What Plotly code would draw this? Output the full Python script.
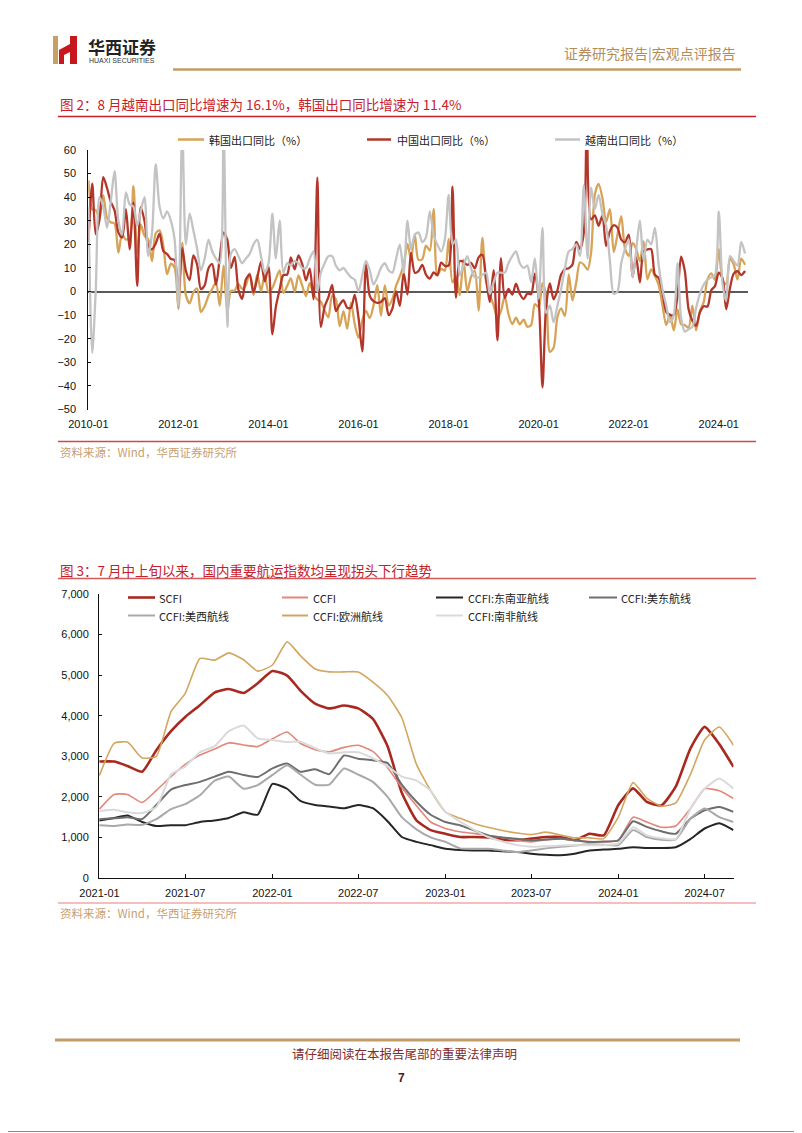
import plotly.graph_objects as go
import pandas as pd

# The page body adds an 8px margin around the plot div, so the figure is made
# 8px smaller on each axis and all page positions are shifted by that margin.
PAGE_W, PAGE_H, OFF = 802, 1133, 8
W, H = PAGE_W - OFF, PAGE_H - OFF
def px(x): return (x - OFF) / W
def py(y): return 1 - (y - OFF) / H

CJK = "Noto Sans CJK SC"
LAT = "Liberation Sans, Arial, sans-serif"

# ---------------- Chart 1 data (monthly, 2010-01 .. 2024-08) ----------------
months1 = pd.date_range("2010-01-01", periods=176, freq="MS").strftime("%Y-%m-%d").tolist()

korea = [
    47.1, 34.8, 34.5, 31.5, 40.9, 31.2, 29.4, 28.8, 16.5, 24.3, 22.0, 23.0,
    44.7, 16.3, 28.4, 23.7, 22.2, 12.9, 24.7, 25.9, 19.3, 7.4, 11.8, 10.2,
    -7.4, 20.6, -1.4, -5.0, -0.4, 1.3, -8.7, -6.2, -1.8, 1.1, 3.8, -6.0,
    11.0, -8.6, 0.2, 0.4, 3.2, 1.1, 2.6, 7.7, -1.5, 7.3, 0.2, 7.0,
    -0.2, 1.6, 5.2, 9.0, -0.6, 2.4, 5.6, -0.1, 6.8, 2.5, -1.9, 3.6,
    -0.9, -3.4, -4.3, -8.0, -10.9, -1.8, -3.3, -14.7, -8.3, -15.8, -4.7, -13.8,
    -19.6, -12.2, -8.2, -11.2, -6.0, 2.7, -10.2, 2.6, -5.9, -3.2, 2.5, 6.4,
    11.2, 20.2, 13.7, 24.2, 13.4, 13.7, 19.5, 17.4, 35.0, 6.9, 9.6, 8.9,
    22.3, 3.9, 6.1, -1.5, 13.5, -0.1, 6.2, 8.7, -8.1, 22.7, 4.1, -1.2,
    -5.9, -11.3, -8.3, -2.1, -9.5, -13.8, -11.1, -13.9, -11.9, -14.9, -14.2, -5.3,
    -6.6, 3.6, -1.4, -25.6, -23.8, -10.9, -7.1, -10.3, 7.3, -3.8, 3.9, 12.4,
    11.4, 9.3, 16.4, 41.1, 45.6, 39.7, 29.6, 34.9, 16.7, 24.0, 32.0, 18.3,
    15.1, 20.6, 18.2, 12.9, 21.3, 5.2, 9.4, 6.6, 2.7, -5.8, -14.2, -9.7,
    -16.4, -7.6, -13.8, -14.3, -15.3, -6.0, -16.4, -8.3, -4.4, 5.1, 7.7, 5.0,
    18.0, 4.8, 3.1, 13.8, 11.5, 5.1, 13.9, 11.4,
]

china = [
    21.0, 45.7, 24.3, 30.5, 48.5, 43.9, 38.1, 34.4, 25.1, 22.9, 34.9, 17.9,
    37.7, 2.4, 35.8, 29.9, 19.4, 17.9, 20.4, 24.5, 17.1, 15.9, 13.8, 13.4,
    -0.5, 18.4, 8.9, 4.9, 15.3, 11.3, 1.0, 2.7, 9.9, 11.6, 2.9, 14.1,
    25.0, 21.8, 10.0, 14.7, 1.0, -3.1, 5.1, 7.2, -0.3, 5.6, 12.7, 4.3,
    10.6, -18.1, -6.6, 0.9, 7.0, 7.2, 14.5, 9.4, 15.3, 11.6, 4.7, 9.7,
    -3.3, 48.3, -15.0, -6.4, -2.5, 2.8, -8.3, -5.5, -3.7, -6.9, -6.8, -1.4,
    -11.2, -25.4, 11.5, -1.8, -4.1, -4.8, -4.4, -2.8, -10.0, -7.3, 0.1, -6.1,
    7.9, -1.3, 16.4, 8.0, 8.7, 11.3, 7.2, 5.5, 8.1, 6.9, 12.3, 10.9,
    11.1, 44.5, -2.7, 12.9, 12.6, 11.3, 12.2, 9.8, 14.5, 15.6, 5.4, -4.4,
    9.1, -20.7, 14.2, -2.7, 1.1, -1.3, 3.3, -1.0, -3.2, -0.9, -1.1, 7.6,
    -3.0, -40.6, -6.6, 3.5, -3.3, 0.5, 7.2, 9.5, 9.9, 11.4, 21.1, 18.1,
    24.9, 154.9, 30.6, 32.3, 27.9, 32.2, 19.3, 25.6, 28.1, 27.1, 22.0, 20.9,
    24.1, 6.2, 14.7, 3.9, 16.9, 17.9, 18.0, 7.1, 5.7, -0.3, -8.7, -9.9,
    -10.0, -1.3, 14.8, 8.5, -7.5, -12.4, -14.5, -8.8, -6.2, -6.4, 0.5, 2.3,
    8.0, 5.6, -7.5, 1.5, 7.6, 8.6, 7.0, 8.7,
]

vietnam = [
    36, -26, 0, 40, 36, 27, 38, 51, 30, 24, 42, 37,
    36, 28, 34, 40, 15, 25, 54, 36, 31, 34, 30, 22,
    -6, 70, 20, 33, 26, 18, 9, 14, 22, 17, 14, 12,
    70, -15, 16, 18, 15, 12, 14, 16, 20, 22, 15, 8,
    12, 33, 14, 30, 8, 12, 11, 13, 12, 10, 10, 14,
    17, 0, 8, 12, 15, 15, 11, 9, 10, 8, 6, 5,
    0, 7, 13, 9, 3, 6, 10, 12, 9, 8, 14, 20,
    8, 30, 18, 24, 25, 21, 23, 34, 24, 20, 17, 22,
    41, 20, 22, 7, 11, 15, 10, 6, 6, 7, 8, -1,
    4, 8, 8, 8, 12, 15, 17, 12, 10, 11, 4, 14,
    -3, 27, -9, -6, -13, -6, 1, 10, 17, 18, 20, 15,
    45, 14, 44, 35, 41, 33, 28, 13, -1, 0, 12, 18,
    22, 6, 17, 30, 13, 22, 20, 27, 11, 1, -6, -13,
    -10, 12, -11, -17, -16, -15, -7, -1, 3, 5, 6, 7,
    34, 3, -4, 15, 13, 11, 21, 16.1,
]

legend1 = ["韩国出口同比（%）", "中国出口同比（%）", "越南出口同比（%）"]

# ---------------- Chart 2 data (2021-01 .. 2024-08) ----------------
dates2 = pd.date_range("2021-01-01", "2024-08-01", freq="MS").strftime("%Y-%m-%d").tolist() + ["2024-08-31"]

scfi = [2870, 2870, 2760, 2620, 3150, 3620, 3970, 4260, 4570, 4660, 4560, 4800,
        5100, 4990, 4620, 4300, 4180, 4250, 4180, 3920, 3250, 2100, 1420, 1180,
        1090, 1010, 1010, 1000, 950, 930, 970, 1010, 1010, 930, 1090, 1050,
        1800, 2210, 1875, 1790, 2250, 3190, 3725, 3300, 2738]
ccfi = [1700, 2060, 2060, 1860, 2160, 2500, 2800, 3030, 3180, 3330, 3280, 3240,
        3430, 3600, 3320, 3160, 3110, 3220, 3270, 3120, 2720, 2230, 1780, 1380,
        1220, 1140, 1100, 1050, 1000, 930, 890, 940, 970, 930, 900, 890,
        930, 1500, 1380, 1250, 1280, 1710, 2200, 2150, 1960]
ccfi_sea = [1420, 1480, 1540, 1380, 1280, 1300, 1300, 1380, 1420, 1480, 1620, 1560,
            2320, 2200, 1900, 1800, 1760, 1720, 1800, 1720, 1400, 1010, 890, 810,
            720, 690, 680, 680, 660, 640, 600, 570, 560, 600, 680, 700,
            720, 760, 740, 740, 760, 960, 1220, 1350, 1180]
ccfi_usec = [1450, 1470, 1500, 1450, 1800, 2180, 2290, 2370, 2500, 2620, 2540, 2490,
             2700, 2820, 2620, 2680, 2560, 3020, 2940, 2900, 2830, 2300, 1880, 1560,
             1380, 1300, 1180, 1050, 1000, 970, 930, 950, 970, 930, 890, 900,
             930, 1400, 1260, 1150, 1090, 1460, 1670, 1750, 1630]
ccfi_uswc = [1300, 1280, 1320, 1310, 1450, 1700, 1820, 2040, 2400, 2500, 2200, 2290,
             2540, 2780, 2550, 2300, 2300, 2700, 2550, 2370, 2000, 1500, 1200, 1000,
             890, 730, 720, 720, 680, 640, 680, 730, 770, 800, 830, 820,
             810, 1180, 1010, 940, 950, 1460, 1710, 1500, 1380]
ccfi_eu = [2530, 3320, 3350, 2960, 3000, 4100, 4550, 5410, 5370, 5550, 5380, 5100,
           5250, 5820, 5480, 5150, 5080, 5080, 5080, 4830, 4500, 3950, 2800, 2150,
           1630, 1470, 1350, 1250, 1170, 1110, 1070, 1130, 1060, 990, 990, 970,
           1500, 2350, 1970, 1770, 1850, 2550, 3400, 3720, 3273]
ccfi_saf = [1650, 1680, 1620, 1600, 1750, 2550, 2750, 3100, 3250, 3620, 3760, 3440,
            3400, 3350, 3360, 3200, 3070, 3100, 3100, 2950, 2750, 2500, 2400, 2150,
            1630, 1390, 1200, 1010, 900, 810, 770, 780, 800, 810, 810, 810,
            850, 1250, 1050, 980, 960, 1700, 2200, 2450, 2200]

legend2 = ["SCFI", "CCFI", "CCFI:东南亚航线", "CCFI:美东航线", "CCFI:美西航线", "CCFI:欧洲航线", "CCFI:南非航线"]

# ---------------- styles ----------------
c_korea, c_china, c_viet = "#D7A357", "#B3362B", "#C3C3C3"
s1 = [(korea, c_korea), (china, c_china), (vietnam, c_viet)]

s2 = [
    (scfi, "#A8291F", 2.6),
    (ccfi, "#E3877A", 1.6),
    (ccfi_sea, "#262626", 2.0),
    (ccfi_usec, "#6E6E6E", 2.0),
    (ccfi_uswc, "#A9A9A9", 2.0),
    (ccfi_eu, "#D3A55E", 1.6),
    (ccfi_saf, "#DADADA", 2.0),
]

fig = go.Figure()
for vals, col in s1:
    fig.add_trace(go.Scatter(x=months1, y=vals, mode="lines", xaxis="x", yaxis="y",
                             line=dict(color=col, width=2.3, shape="spline", smoothing=0.8),
                             showlegend=False, hoverinfo="skip"))
for vals, col, wd in s2:
    fig.add_trace(go.Scatter(x=dates2, y=vals, mode="lines", xaxis="x2", yaxis="y2",
                             line=dict(color=col, width=wd, shape="spline", smoothing=0.5),
                             showlegend=False, hoverinfo="skip"))

tickfont = dict(family=LAT, size=11, color="#111")

fig.update_layout(
    template="none",
    width=W, height=H, autosize=False,
    margin=dict(l=0, r=0, t=0, b=0, pad=0, autoexpand=False),
    showlegend=False,
    paper_bgcolor="white", plot_bgcolor="rgba(0,0,0,0)",
    xaxis=dict(domain=[px(88.3), px(748)], range=["2009-12-31", "2024-08-25"],
               type="date", tickformat="%Y-%m", dtick="M24", tick0="2010-01-01",
               showline=False, showgrid=False, zeroline=False, automargin=False,
               ticks="", ticklabelstandoff=6, tickfont=tickfont),
    yaxis=dict(domain=[py(409.5), py(150)], range=[-50, 60], dtick=10,
               showline=True, linecolor="#111", linewidth=1, showgrid=False,
               zeroline=True, zerolinecolor="#595959", zerolinewidth=1.6, automargin=False,
               ticks="inside", ticklen=3, tickcolor="#111", tickfont=tickfont,
               ticklabelstandoff=9),
    xaxis2=dict(domain=[px(99), px(733.5)], range=["2020-12-31", "2024-08-31"],
                type="date", tickformat="%Y-%m", dtick="M6", tick0="2021-01-01",
                showline=True, linecolor="#111", linewidth=1, showgrid=False, zeroline=False,
                automargin=False, ticklabelstandoff=5,
                ticks="inside", ticklen=4, tickcolor="#111", tickfont=tickfont, anchor="y2"),
    yaxis2=dict(domain=[py(878), py(594)], range=[0, 7000], dtick=1000, tickformat=",",
                showline=True, linecolor="#111", linewidth=1, showgrid=False, zeroline=False,
                automargin=False,
                ticks="inside", ticklen=3, tickcolor="#111", tickfont=tickfont,
                ticklabelstandoff=7, anchor="x2"),
)

shapes = []
annotations = []

def hline(x0, x1, y, color, width):
    shapes.append(dict(type="line", xref="paper", yref="paper",
                       x0=px(x0), x1=px(x1), y0=py(y), y1=py(y),
                       line=dict(color=color, width=width)))

def vline(x, y0, y1, color, width):
    shapes.append(dict(type="line", xref="paper", yref="paper",
                       x0=px(x), x1=px(x), y0=py(y0), y1=py(y1),
                       line=dict(color=color, width=width)))

def text(x, y, s, size, color, family=CJK, xanchor="left", bold=False):
    if bold:
        s = "<b>" + s + "</b>"
    annotations.append(dict(x=px(x), y=py(y), xref="paper", yref="paper", text=s,
                            showarrow=False, xanchor=xanchor, yanchor="middle",
                            font=dict(family=family, size=size, color=color)))

# page border (right and bottom edges fall inside the drawable area)
hline(8, 800.5, 1131.5, "#8a8a8a", 1)
vline(800.5, 8, 1131.5, "#8a8a8a", 1)

# logo
shapes.append(dict(type="rect", xref="paper", yref="paper", x0=px(53), x1=px(58),
                   y0=py(64), y1=py(36), fillcolor="#C9A063", line=dict(width=0)))
pts = [(59, 64), (59, 50), (70, 44), (70, 36), (77, 36), (77, 64), (70, 64), (70, 52), (64, 55), (64, 64)]
path = "M " + " L ".join(f"{px(a):.5f},{py(b):.5f}" for a, b in pts) + " Z"
shapes.append(dict(type="path", xref="paper", yref="paper", path=path,
                   fillcolor="#C8161D", line=dict(width=0)))
text(86, 47, "华西证券", 17, "#222", bold=True)
text(87, 61, "HUAXI SECURITIES", 7, "#333", family=LAT)
text(738, 53, "证券研究报告|宏观点评报告", 14, "#B48C5A", xanchor="right")
hline(173, 741, 69.5, "#C39B67", 2.5)

# chart 1 frame texts
red = "#C8202A"
text(58, 104, "图 2：8 月越南出口同比增速为 16.1%，韩国出口同比增速为 11.4%", 13.5, red)
hline(58, 756, 116.5, red, 1.5)
hline(58, 756, 441.5, "#D04848", 1.5)
text(58, 451.5, "资料来源：Wind，华西证券研究所", 11.5, "#C8A070")

# chart 1 legend
leg1 = [(178, 204, 207), (367, 391, 395), (555, 580, 583)]
for (x0, x1, xt), name, (_, col) in zip(leg1, legend1, s1):
    hline(x0, x1, 139.5, col, 2.5)
    text(xt, 139.5, name, 11, "#222")

# chart 2 frame texts
text(58, 570, "图 3：7 月中上旬以来，国内重要航运指数均呈现拐头下行趋势", 13.5, red)
hline(58, 756, 578.5, "#D65A5A", 1.5)
hline(58, 756, 903, "#F0A8A8", 1.5)
text(58, 913, "资料来源：Wind，华西证券研究所", 11.5, "#C8A070")

# chart 2 legend
leg2 = [(128, 155, 157, 597.5), (282, 308, 311, 597.5), (436, 463, 466, 597.5), (589, 617, 619, 597.5),
        (128, 155, 157, 615.5), (282, 308, 311, 615.5), (436, 463, 466, 615.5)]
for (x0, x1, xt, y), name, (_, col, wd) in zip(leg2, legend2, s2):
    hline(x0, x1, y, col, max(wd, 2))
    text(xt, y, name, 11, "#222")

# footer
hline(55, 740, 1040, "#C39B67", 3)
text(404, 1053, "请仔细阅读在本报告尾部的重要法律声明", 12.5, "#7E2B2B", xanchor="center")
text(401, 1078, "7", 12, "#4A1A1A", family=LAT, xanchor="center", bold=True)

fig.update_layout(shapes=shapes, annotations=annotations)
fig.write_html("out.html")
